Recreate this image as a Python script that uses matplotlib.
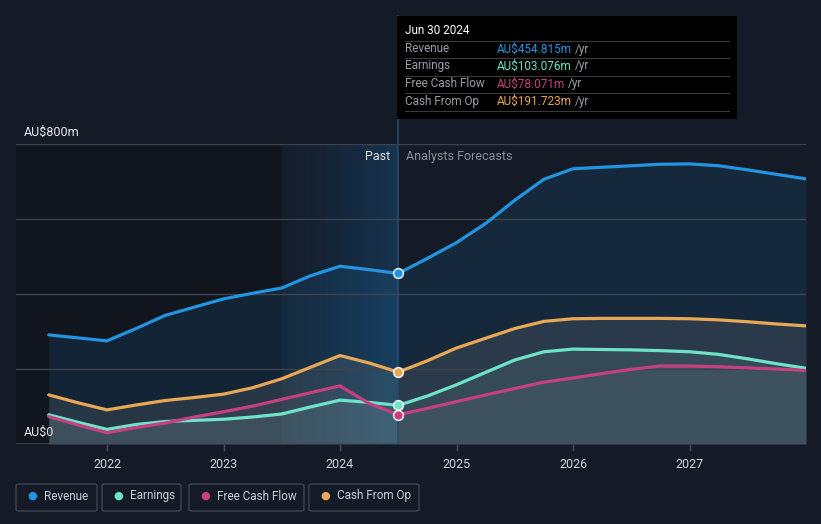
import numpy as np
import matplotlib
matplotlib.use("Agg")
import matplotlib.pyplot as plt
from matplotlib.patches import Rectangle, FancyBboxPatch

plt.rcParams['font.family'] = ['Roboto', 'DejaVu Sans']

# ---------------------------------------------------------- DATA ----------------------------------------------------------#
# decimal years, quarterly
dates = [2021.5, 2021.75, 2022.0, 2022.25, 2022.5, 2022.75, 2023.0, 2023.25, 2023.5, 2023.75,
         2024.0, 2024.25, 2024.5, 2024.75, 2025.0, 2025.25, 2025.5, 2025.75, 2026.0, 2026.25,
         2026.5, 2026.75, 2027.0, 2027.25, 2027.5, 2027.75, 2028.0]
# AU$ m
revenue = [291, 283, 275, 308, 343, 365, 387, 402, 416, 449,
           474, 465, 454.8, 495, 537, 588, 650, 706, 734, 738,
           742, 746, 747, 742, 731, 719, 707]
earnings = [78, 58, 39, 52, 60, 63, 66, 72, 80, 99,
            117, 111, 103.1, 128, 158, 191, 224, 246, 253, 252,
            251, 249, 246, 239, 227, 214, 202]
free_cash_flow = [73, 51, 30, 44, 56, 72, 86, 101, 119, 137,
                  155, 108, 78.1, 95, 113, 131, 148, 165, 176, 188,
                  199, 208, 208, 206, 203, 200, 196]
cash_from_op = [131, 110, 91, 104, 116, 124, 133, 150, 174, 205,
                236, 216, 191.7, 222, 256, 282, 308, 327, 334, 335,
                335, 335, 334, 331, 326, 320, 315]
year_ticks = [2022, 2023, 2024, 2025, 2026, 2027]
tooltip_date = 2024.5
past_start = 2023.5

series_names = ['Revenue', 'Earnings', 'Free Cash Flow', 'Cash From Op']
tooltip_values = ['AU$454.815m', 'AU$103.076m', 'AU$78.071m', 'AU$191.723m']
colors = {'Revenue': '#2394df', 'Earnings': '#6fe3c8', 'Free Cash Flow': '#c6407f', 'Cash From Op': '#e8a854'}

bg = '#151b26'
W, H = 821, 524

# ---------------------------------------------------------- FIGURE ----------------------------------------------------------#
fig = plt.figure(figsize=(W / 100, H / 100), dpi=100, facecolor=bg)
ax = fig.add_axes([16 / W, 80 / H, 790 / W, 300 / H])
ax.set_facecolor(bg)
x_left = 2022 + (16 - 107) / 116.5
ax.set_xlim(x_left, 2028.0)
ax.set_ylim(0, 800)

# darker past area and highlighted last year
ax.axvspan(x_left, past_start, color='#0c0f16', alpha=0.45, lw=0, zorder=0)
grad = np.linspace(0, 1, 256).reshape(1, -1)
cmap = matplotlib.colors.LinearSegmentedColormap.from_list('hl', [(0.09, 0.28, 0.45, 0.05), (0.10, 0.36, 0.58, 0.40)])
ax.imshow(grad, extent=[past_start, tooltip_date, 0, 800], aspect='auto', cmap=cmap, zorder=0.5)

x = np.array(dates)
# area fills under each series
ax.fill_between(x, 0, revenue, color=colors['Revenue'], alpha=0.12, lw=0, zorder=1)
ax.fill_between(x, 0, cash_from_op, color='#a8a8a0', alpha=0.14, lw=0, zorder=1.1)
ax.fill_between(x, 0, earnings, color=colors['Earnings'], alpha=0.07, lw=0, zorder=1.2)
ax.fill_between(x, 0, earnings, color='#b0b0b0', alpha=0.05, lw=0, zorder=1.2)
ax.fill_between(x, 0, free_cash_flow, color='#b8b8c8', alpha=0.08, lw=0, zorder=1.3)

# grid
for gy in [200, 400, 600, 800]:
    ax.axhline(gy, color='#3c434d', lw=1, zorder=2)
ax.axhline(0, color='#454c56', lw=1.2, zorder=2)

# lines
for name, vals in [('Revenue', revenue), ('Cash From Op', cash_from_op),
                   ('Earnings', earnings), ('Free Cash Flow', free_cash_flow)]:
    ax.plot(x, vals, color=colors[name], lw=2.3, zorder=3, solid_capstyle='round', solid_joinstyle='round')

# tooltip vertical line
ax.axvline(tooltip_date, color='#26496a', lw=1.2, zorder=2.5)

idx = dates.index(tooltip_date)
for name, vals in zip(series_names, [revenue, earnings, free_cash_flow, cash_from_op]):
    ax.scatter([tooltip_date], [vals[idx]], s=50, color=colors[name], edgecolor='white', linewidth=1.0, zorder=4)

# axes styling
for s in ax.spines.values():
    s.set_visible(False)
ax.set_yticks([])
ax.set_xticks(year_ticks)
ax.set_xticklabels([str(y) for y in year_ticks], color='#d0d4da', fontsize=9)
ax.tick_params(axis='x', length=5, width=1, color='#4a515b', pad=5)

ax.text(past_start + 0.93, 767, 'Past', color='#e6e8ea', fontsize=9, ha='right', va='center')
ax.text(tooltip_date + 0.07, 767, 'Analysts Forecasts', color='#8a8f96', fontsize=9, ha='left', va='center')

fig.text(24 / W, 1 - 132 / H, 'AU$800m', color='#e6e8ea', fontsize=9, va='center')
fig.text(24 / W, 1 - 432 / H, 'AU$0', color='#e6e8ea', fontsize=9, va='center')

# vertical line above axes up to tooltip
fig.add_artist(plt.Line2D([397.5 / W, 397.5 / W], [1 - 144 / H, 1 - 16 / H], color='#26496a', lw=1.2))

# tooltip box
fig.add_artist(Rectangle((397 / W, 1 - 119 / H), 340 / W, 103 / H, transform=fig.transFigure,
                         facecolor='#000000', edgecolor='none', zorder=5))
fig.text(405 / W, 1 - 31 / H, 'Jun 30 2024', color='white', fontsize=8.5, va='center', zorder=6)
row_y = [49, 66, 84, 101]
fig.canvas.draw()
for i, (name, val) in enumerate(zip(series_names, tooltip_values)):
    yy = 1 - row_y[i] / H
    fig.add_artist(plt.Line2D([405 / W, 729 / W], [1 - (row_y[i] - 8.5) / H] * 2, color='#3a3a3a', lw=0.8, zorder=6))
    fig.text(405 / W, yy, name, color='#9a9ea4', fontsize=8.5, va='center', zorder=6)
    t = fig.text(497 / W, yy, val, color=colors[name], fontsize=8.5, va='center', zorder=6)
    bb = t.get_window_extent(renderer=fig.canvas.get_renderer())
    fig.text((bb.x1 + 3) / W, yy, '/yr', color='#9a9ea4', fontsize=8.5, va='center', zorder=6)
fig.add_artist(plt.Line2D([405 / W, 729 / W], [1 - 110.5 / H] * 2, color='#3a3a3a', lw=0.8, zorder=6))

# legend boxes
boxes = [(16, 97), (102, 181), (189, 304), (309, 419)]
for (x0, x1), name in zip(boxes, series_names):
    fig.add_artist(FancyBboxPatch((x0 / W, 1 - 511 / H), (x1 - x0) / W, 27 / H,
                                  boxstyle='round,pad=0,rounding_size=0.003', transform=fig.transFigure,
                                  facecolor='none', edgecolor='#3e454f', lw=1))
    fig.text((x0 + 16) / W, 1 - 496 / H, '\u25CF', color=colors[name], fontsize=8, ha='center', va='center')
    fig.text((x0 + 28) / W, 1 - 496 / H, name, color='#c8ccd2', fontsize=8.5, va='center')

fig.savefig('out.png', dpi=100, facecolor=bg)
